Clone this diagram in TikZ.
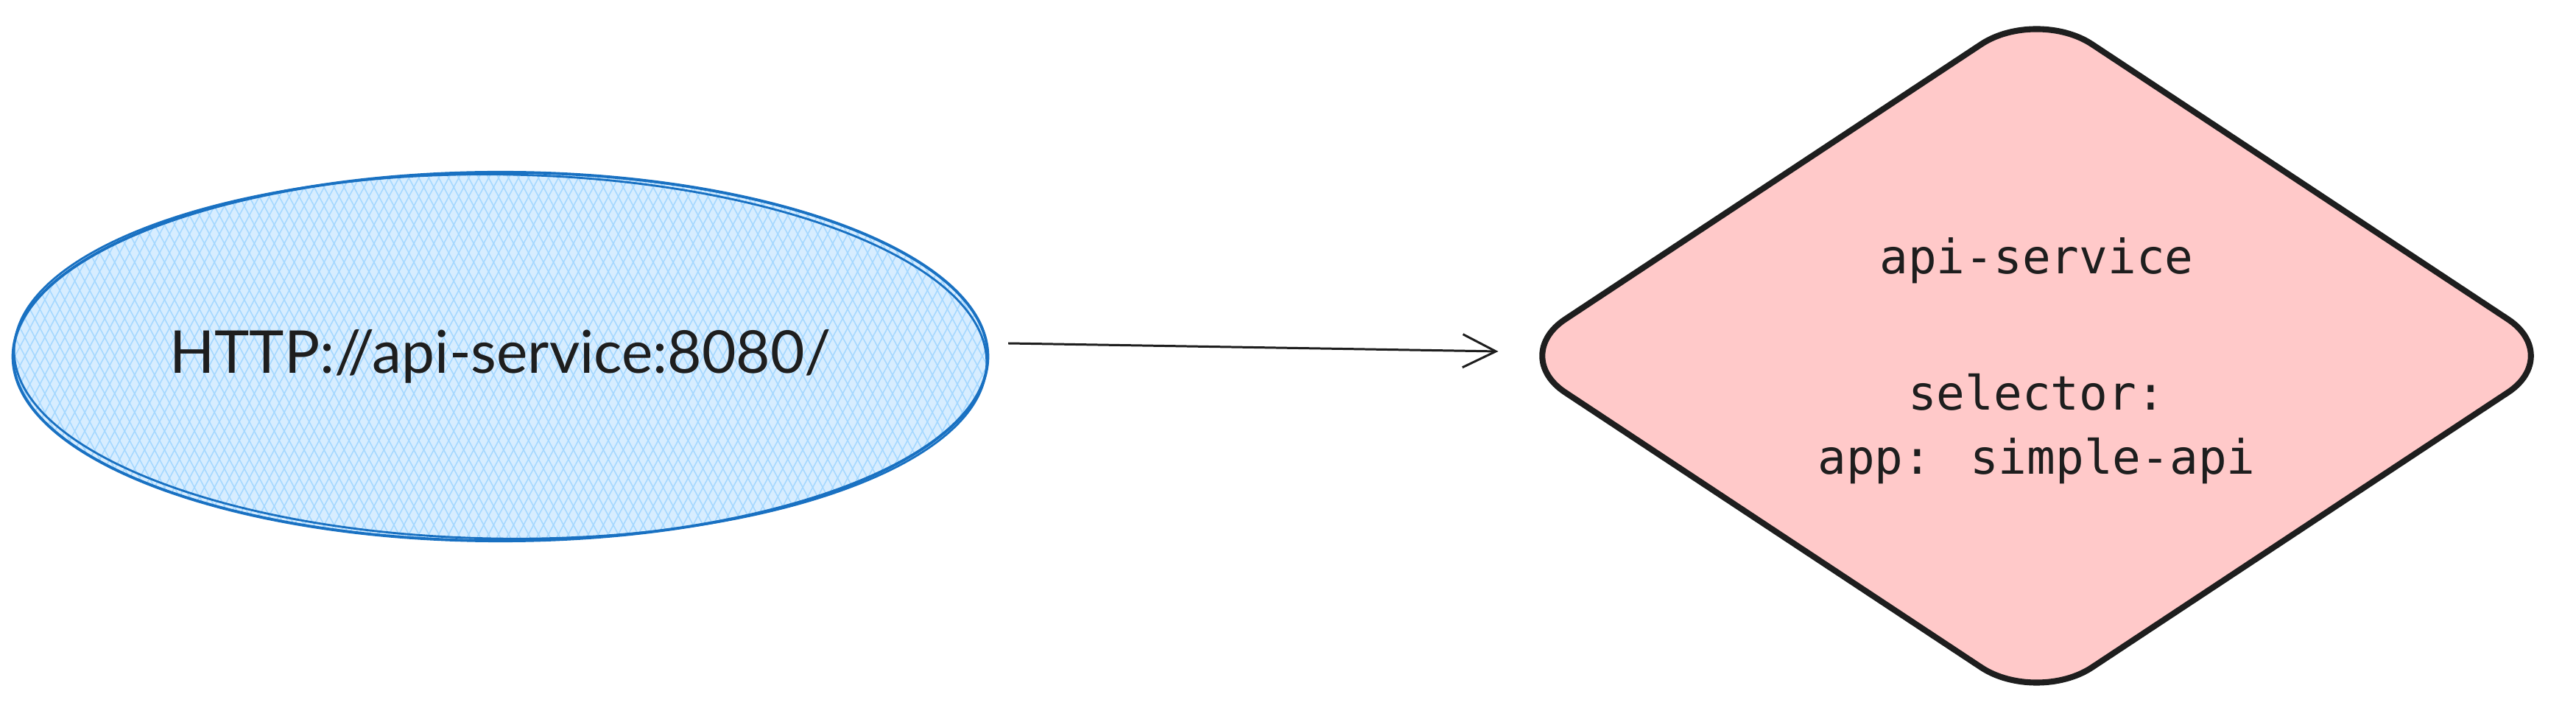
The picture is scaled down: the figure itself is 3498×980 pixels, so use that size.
\documentclass[tikz,border=0pt]{standalone}
\usepackage{fontspec}
\newfontfamily\handfont{Lato}
\newfontfamily\codefont{DejaVu Sans Mono}
\usetikzlibrary{positioning,arrows.meta,calc,shapes.geometric,patterns.meta}
\definecolor{urlblue}{HTML}{1971C2}
\definecolor{hatchblue}{HTML}{A5D8FF}
\definecolor{svcred}{HTML}{FFC9C9}
\definecolor{ink}{HTML}{1E1E1E}

\begin{document}
\begin{tikzpicture}[
  x=0.01cm, y=-0.01cm,
  every node/.style={text=ink},
  urlbox/.style={ellipse, draw=urlblue, line width=1.1pt, inner sep=0pt,
    minimum width=13.23cm, minimum height=5cm,
    preaction={fill=hatchblue!45},
    preaction={pattern={Lines[angle=62,distance=3.4pt,line width=0.45pt]},
      pattern color=hatchblue},
    pattern={Lines[angle=-62,distance=3.4pt,line width=0.45pt]},
    pattern color=hatchblue,
    font=\handfont\fontsize{22.8}{27}\selectfont},
  urlline/.style={draw=urlblue, line width=0.8pt},
  svcbox/.style={diamond, draw=ink, line width=2.3pt, fill=svcred,
    rounded corners=0.9cm, inner sep=0pt, shape aspect=1.5,
    minimum width=14.33cm, minimum height=9.48cm, align=center,
    text depth=0pt,
    font=\codefont\fontsize{18.3}{24.7}\selectfont},
  link/.style={-{Straight Barb[length=0.45cm,width=0.45cm]},
    draw=ink, line width=0.85pt}
]
\useasboundingbox (0,0) rectangle (3498,980);

% URL
\node[urlbox] (url) at (679.5,484) {HTTP://api-service:8080/};
\draw[urlline, rotate around={-0.8:(url.center)}]
  (url.center) ellipse [x radius=6.6cm, y radius=2.47cm];

% Service
\node[svcbox] (svc) at (2765.5,483)
  {api-service\\[28pt]selector:\\app: simple-api};

% URL -> Service
\coordinate (from) at ($(url.east)+(27,-18)$);
\coordinate (to) at ($(svc.west)+(-10,-6)$);
\draw[link] (from) -- (to);
\end{tikzpicture}
\end{document}
